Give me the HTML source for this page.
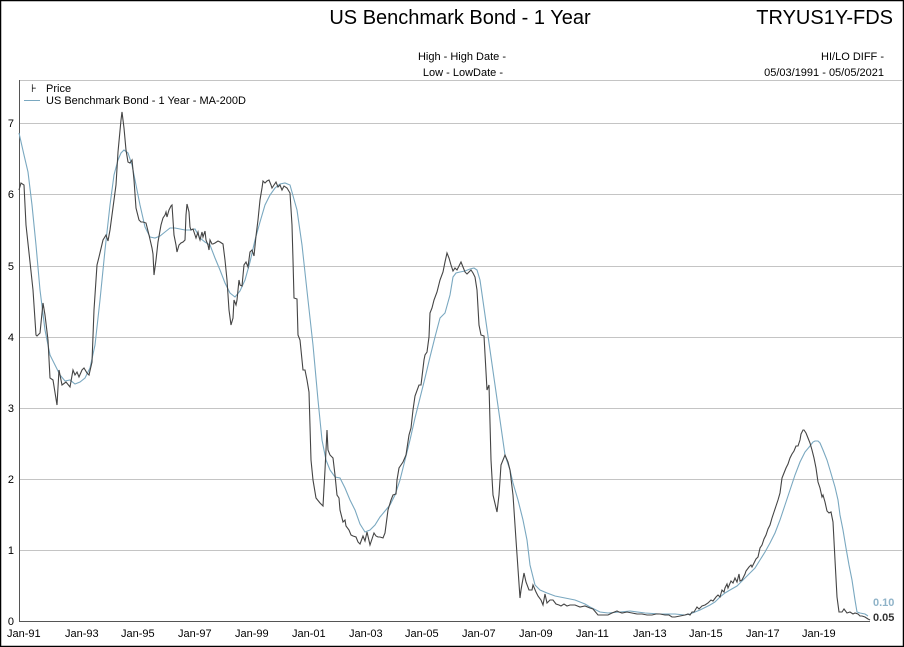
<!DOCTYPE html>
<html><head><style>
body{margin:0;background:#fff}
svg{display:block;font-family:"Liberation Sans",sans-serif}
</style></head><body>
<svg width="904" height="647" viewBox="0 0 904 647">
<rect x="0.5" y="0.5" width="903" height="646" fill="#fff" stroke="#000" stroke-width="1.5"/>
<text x="460" y="24" font-size="20" text-anchor="middle" fill="#000">US Benchmark Bond - 1 Year</text>
<text x="893" y="24" font-size="20" text-anchor="end" fill="#000">TRYUS1Y-FDS</text>
<text x="506" y="60" font-size="11" text-anchor="end">High - High Date -</text>
<text x="503" y="76" font-size="11" text-anchor="end">Low - LowDate -</text>
<text x="884" y="60" font-size="11" text-anchor="end">HI/LO DIFF -</text>
<text x="884" y="76" font-size="11" text-anchor="end">05/03/1991 - 05/05/2021</text>
<g stroke="#c4c4c4" stroke-width="1">
<line x1="19" y1="80.5" x2="903" y2="80.5"/>
<line x1="19" y1="123.5" x2="903" y2="123.5"/>
<line x1="19" y1="194.5" x2="903" y2="194.5"/>
<line x1="19" y1="266.5" x2="903" y2="266.5"/>
<line x1="19" y1="337.5" x2="903" y2="337.5"/>
<line x1="19" y1="408.5" x2="903" y2="408.5"/>
<line x1="19" y1="479.5" x2="903" y2="479.5"/>
<line x1="19" y1="550.5" x2="903" y2="550.5"/>
</g>
<g stroke="#555" stroke-width="1">
<line x1="19.5" y1="80" x2="19.5" y2="622"/>
<line x1="19" y1="621.5" x2="870" y2="621.5"/>
</g>
<g font-size="11" text-anchor="end" fill="#000">
<text x="14" y="127">7</text><text x="14" y="198">6</text><text x="14" y="270">5</text>
<text x="14" y="341">4</text><text x="14" y="412">3</text><text x="14" y="483">2</text>
<text x="14" y="554">1</text><text x="14" y="625">0</text>
</g>
<g id="ticks" stroke="#555" stroke-width="1"></g>
<g font-size="11" fill="#000">
<text x="7" y="637">Jan-91</text><text x="65" y="637">Jan-93</text><text x="121" y="637">Jan-95</text>
<text x="178" y="637">Jan-97</text><text x="235" y="637">Jan-99</text><text x="292" y="637">Jan-01</text>
<text x="349" y="637">Jan-03</text><text x="405" y="637">Jan-05</text><text x="462" y="637">Jan-07</text>
<text x="519" y="637">Jan-09</text><text x="576" y="637">Jan-11</text><text x="633" y="637">Jan-13</text>
<text x="689" y="637">Jan-15</text><text x="746" y="637">Jan-17</text><text x="802" y="637">Jan-19</text>
</g>
<text x="31" y="92" font-size="11">⊦</text>
<text x="46" y="92" font-size="11">Price</text>
<line x1="24" y1="100.5" x2="40" y2="100.5" stroke="#7aa8c0" stroke-width="1"/>
<text x="46" y="104" font-size="11">US Benchmark Bond - 1 Year - MA-200D</text>
<polyline fill="none" stroke="#7aa8c0" stroke-width="1.1" points="19,133 24,155 28,172 32,205 36,245 40,290 45,330 50,355 55,365 60,375 65,381 70,380 75,384 80,382 85,378 90,368 95,345 100,300 105,250 110,205 114,175 118,160 121,153 124,150 128,153 132,165 136,185 140,205 145,227 150,237 155,238 160,236 165,232 170,228 175,228 180,229 185,230 190,230 195,229 200,238 205,242 210,245 215,258 220,270 225,283 230,293 235,297 240,291 245,280 250,262 255,240 260,222 265,205 270,195 275,188 280,184 285,183 290,185 297,210 302,245 308,300 313,345 318,400 322,440 326,460 330,470 335,477 340,478 345,488 350,500 355,510 360,524 365,532 370,530 375,525 380,517 385,511 390,505 395,495 400,480 405,460 410,440 415,418 420,398 425,378 430,357 435,337 440,318 445,313 450,295 453,277 456,273 460,272 465,271 470,269 474,268 477,270 480,280 485,315 490,350 495,385 500,420 505,455 510,470 513,483 518,500 523,520 527,540 530,565 535,585 540,590 547,593 555,596 565,598 575,600 585,604 590,607 600,612 608,613 620,612 630,611 645,613 660,614 675,614 685,615 690,614 700,610 710,605 715,602 720,597 725,593 730,590 737,586 742,581 748,575 755,568 760,560 765,552 770,543 775,533 780,520 785,505 790,490 795,475 800,462 805,452 810,446 813,442 815,441 818,441 820,443 823,450 827,460 830,470 835,487 838,500 840,515 843,530 846,548 849,565 852,580 855,600 857,612 860,613 865,614 868,616"/>
<polyline fill="none" stroke="#444" stroke-width="1.1" points="19,190 21,183 24,185 26,225 30,262 33,290 36,335 37,336 40,333 43,303 45,315 48,340 50,378 53,380 57,405 59,370 62,385 66,382 70,387 73,370 75,375 77,372 79,377 82,370 84,368 87,373 89,375 92,362 94,310 97,265 99,257 103,240 106,235 108,241 110,230 114,200 116,185 118,152 121,120 122,112 124,128 126,150 128,162 130,163 132,160 134,180 136,208 139,220 141,222 143,222 146,223 149,235 152,248 153,254 154,275 156,260 158,242 161,225 163,218 165,215 166,212 167,217 169,210 171,206 172,205 174,235 176,245 177,252 179,245 181,243 183,242 185,240 186,215 187,204 189,212 190,227 191,230 193,229 195,235 196,238 198,232 199,237 200,240 202,232 203,237 205,231 206,240 208,245 209,250 210,240 212,244 213,244 215,243 218,241 220,242 223,244 225,260 227,280 229,310 231,325 233,318 234,300 236,305 237,300 239,280 240,285 242,286 244,265 246,262 248,267 250,252 252,250 254,256 256,236 258,220 260,200 262,188 263,181 265,183 267,181 269,180 271,185 272,188 274,185 276,182 278,187 280,185 282,190 284,186 287,188 290,193 292,225 293,260 294,298 297,299 298,335 300,340 303,370 305,370 307,380 309,392 311,460 313,480 316,498 320,503 323,506 325,470 327,430 328,450 330,455 333,458 335,475 337,495 339,498 340,510 342,518 343,522 345,520 346,526 349,530 351,535 353,536 356,537 358,542 360,544 363,536 365,541 367,532 370,545 374,533 376,536 378,537 380,537 383,538 385,533 388,510 391,500 393,495 396,494 397,480 399,468 403,462 406,455 409,435 411,428 413,410 415,396 419,385 421,385 424,360 425,355 427,352 429,337 430,313 432,308 434,300 437,292 440,280 443,272 445,262 447,253 449,258 451,265 453,271 455,268 457,270 459,266 461,262 463,267 465,272 467,274 469,272 471,270 473,273 475,277 477,290 479,325 481,335 484,336 487,390 489,385 491,460 493,495 497,512 499,495 501,465 505,455 508,462 510,470 513,495 516,540 520,598 521,590 524,573 526,582 529,590 532,590 533,585 536,592 538,596 541,600 543,605 545,594 547,603 550,600 553,600 556,604 559,605 561,606 564,604 567,606 570,605 575,605 580,607 585,606 590,608 593,609 598,615 603,615 608,615 612,613 617,611 619,612 622,613 627,612 632,613 637,614 642,614 647,615 652,615 656,614 660,614 665,615 669,615 672,617 675,617 680,616 685,615 688,614 690,615 692,612 694,612 697,607 699,609 702,606 705,605 708,603 711,600 713,601 716,597 718,595 720,597 722,590 724,592 725,588 727,584 728,588 731,581 733,583 735,578 737,582 739,574 740,581 742,580 745,574 746,571 749,567 751,565 752,567 755,561 756,559 758,557 760,548 762,545 764,539 766,535 768,529 770,525 772,518 774,512 776,506 778,500 780,493 782,478 784,473 786,468 788,464 790,458 792,454 794,451 796,446 798,446 800,440 801,434 803,430 804,430 806,433 808,438 810,443 812,450 814,458 816,468 818,482 820,488 822,497 823,495 825,502 827,511 829,513 831,512 833,522 835,560 837,597 839,612 842,612 844,609 847,613 850,612 853,614 855,613 858,614 860,616 862,616 865,617 868,619 870,620"/>
<text x="873" y="606" font-size="11" font-weight="bold" fill="#8fb3c8">0.10</text>
<text x="873" y="621" font-size="11" font-weight="bold" fill="#333">0.05</text>
<script>
var g=document.getElementById('ticks'),s='';
for(var i=0;i<=30*4;i++){var x=10+i*28.4/4;if(x<20||x>872)continue;var maj=i%4==0;s+='<line x1="'+x.toFixed(1)+'" y1="622" x2="'+x.toFixed(1)+'" y2="'+(maj?627:624)+'"/>';}
for(var v=0;v<=7.6;v+=0.5){var y=621-71.14*v;if(y<82)continue;s+='<line x1="'+(v%1==0?15:17)+'" y1="'+y.toFixed(1)+'" x2="19" y2="'+y.toFixed(1)+'"/>';}
g.innerHTML=s;
</script>
</svg>
</body></html>
